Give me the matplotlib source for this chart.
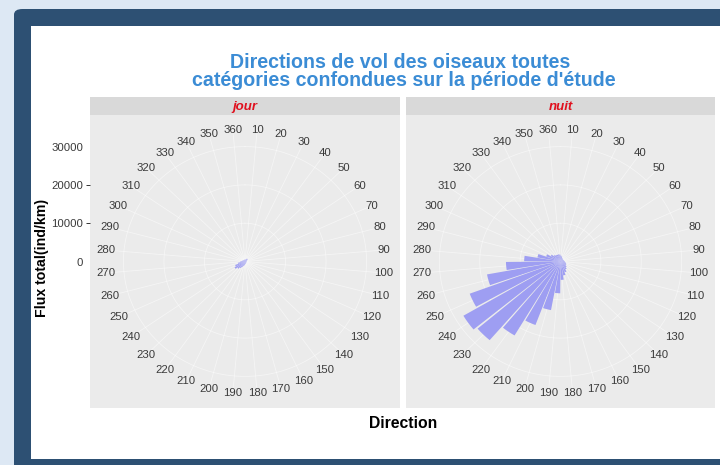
import numpy as np
import matplotlib
matplotlib.use("Agg")
import matplotlib.pyplot as plt
from matplotlib.patches import FancyBboxPatch, Rectangle

plt.rcParams['font.family'] = ['Liberation Sans', 'DejaVu Sans']

# ---------------- data ----------------
directions = [10, 20, 30, 40, 50, 60, 70, 80, 90, 100, 110, 120, 130, 140, 150, 160, 170, 180,
              190, 200, 210, 220, 230, 240, 250, 260, 270, 280, 290, 300, 310, 320, 330, 340, 350, 360]
flux_jour = [500, 500, 700, 900, 900, 700, 500, 400, 400, 400, 400, 400, 400, 400, 500, 500, 600, 700,
             900, 1200, 1500, 2000, 2500, 3000, 2600, 1800, 1200, 900, 700, 600, 500, 500, 500, 500, 500, 500]
flux_nuit = [1500, 1300, 1000, 900, 800, 800, 800, 900, 1000, 1100, 1300, 1500, 1700, 2000, 2400, 3000, 3700, 4800,
             8300, 12900, 17700, 22400, 27000, 27900, 24000, 18500, 13500, 9000, 5800, 3800, 2800, 2200, 2000, 1900, 1900, 1800]
facets = ["jour", "nuit"]
r_breaks = [0, 10000, 20000, 30000]
r_labels = ["0", "10000", "20000", "30000"]
r_max = 30600

title_l1 = "Directions de vol des oiseaux toutes"
title_l2 = "catégories confondues sur la période d'étude"
ylab = "Flux total(ind/km)"
xlab = "Direction"

# ---------------- figure ----------------
W, H = 720, 465
fig = plt.figure(figsize=(W / 100, H / 100), dpi=100)
fig.patch.set_facecolor('#DDE8F4')

def fx(px):
    return px / W

def fy(py):
    return 1 - py / H

# dark frame and white card
fig.patches.append(FancyBboxPatch((fx(14), fy(470)), fx(720), 461 / H,
                                  boxstyle="round,pad=0,rounding_size=0.012",
                                  transform=fig.transFigure, facecolor='#2D5073',
                                  edgecolor='none', zorder=0))
fig.patches.append(Rectangle((fx(31), fy(459)), fx(720 - 31 + 5), 433 / H,
                             transform=fig.transFigure, facecolor='white',
                             edgecolor='none', zorder=0.5))

panels = [(90, 400), (406, 715)]
ptop, pbot = 115, 408
strip_top = 97
data = [flux_jour, flux_nuit]

theta = np.deg2rad(np.array(directions) - 5.0)
bar_w = np.deg2rad(9.0)

for i, (x0, x1) in enumerate(panels):
    rect = [fx(x0), fy(pbot), fx(x1 - x0), (pbot - ptop) / H]
    bg = fig.add_axes(rect, zorder=1)
    bg.set_facecolor('#EBEBEB')
    for s in bg.spines.values():
        s.set_visible(False)
    bg.set_xticks([])
    bg.set_ylim(-1.25 * r_max, 1.25 * r_max)
    if i == 0:
        bg.set_yticks(r_breaks)
        bg.set_yticklabels(r_labels, fontsize=8.2, color='#3A3A3A')
        bg.tick_params(axis='y', length=3, width=0.7, color='#333333', pad=2)
        ticks = bg.yaxis.get_major_ticks()
        ticks[0].tick1line.set_visible(False)
        ticks[-1].tick1line.set_visible(False)
    else:
        bg.set_yticks([])

    # strip
    st = fig.add_axes([fx(x0), fy(ptop), fx(x1 - x0), (ptop - strip_top) / H], zorder=1)
    st.set_facecolor('#D9D9D9')
    for s in st.spines.values():
        s.set_visible(False)
    st.set_xticks([]); st.set_yticks([])
    st.text(0.5, 0.45, facets[i], transform=st.transAxes, ha='center', va='center',
            fontsize=9.5, fontstyle='italic', fontweight='bold', color='#E0101E')

    # polar panel
    ax = fig.add_axes(rect, projection='polar', zorder=2)
    ax.set_aspect('auto')
    ax.set_theta_zero_location('N')
    ax.set_theta_direction(-1)
    ax.set_ylim(0, 1.25 * r_max)
    ax.patch.set_visible(False)
    ax.spines['polar'].set_visible(False)
    ax.set_xticks([]); ax.set_yticks([])
    ax.grid(False)

    # gridlines (faint)
    ax.vlines(theta, 0, 1.125 * r_max, colors='white', linewidth=0.6, alpha=0.5, zorder=1)
    circ = np.linspace(0, 2 * np.pi, 400)
    for b in r_breaks[1:]:
        ax.plot(circ, np.full_like(circ, b), color='white', linewidth=0.6, alpha=0.5, zorder=1)

    ax.bar(theta, data[i], width=bar_w, bottom=0, color='#9E9EF2', edgecolor='none', zorder=2)

    for t, d in zip(theta, directions):
        ax.text(t, 1.125 * r_max, str(d), ha='center', va='center', fontsize=8.2,
                color='#3A3A3A', zorder=3)

# titles
fig.text(fx(400), fy(62), title_l1, ha='center', va='center', fontsize=14.1,
         fontweight='bold', color='#3B8CD5')
fig.text(fx(404), fy(81), title_l2, ha='center', va='center', fontsize=14.1,
         fontweight='bold', color='#3B8CD5')
fig.text(fx(42), fy(258), ylab, ha='center', va='center', rotation=90, fontsize=10.2,
         fontweight='bold', color='black')
fig.text(fx(403), fy(423), xlab, ha='center', va='center', fontsize=11.3,
         fontweight='bold', color='black')

fig.savefig('out.png', dpi=100)
